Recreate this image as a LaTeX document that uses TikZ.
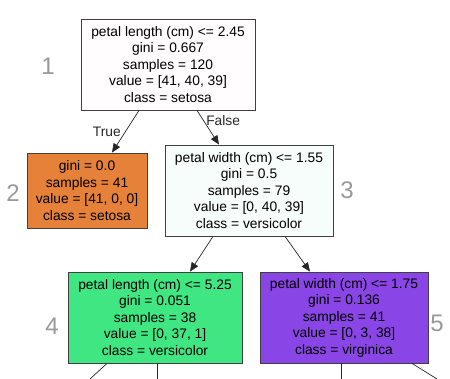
\documentclass[tikz,border=0pt]{standalone}
\usepackage{fontspec}
\setmainfont{Liberation Sans}
\usetikzlibrary{arrows.meta}

\definecolor{setosa}{HTML}{E58139}
\definecolor{versi}{HTML}{3FE682}
\definecolor{virgin}{HTML}{8A45E6}
\definecolor{rootfill}{HTML}{FFFDFD}
\definecolor{splitfill}{HTML}{F6FDFB}

\tikzset{
  leaf/.style={draw=black!75, line width=0.8pt, align=center, inner sep=0pt,
    font=\fontsize{13.8}{16.5}\selectfont},
  edge/.style={black!85, line width=0.7pt},
  tip/.style={-{Stealth[length=9pt,width=7.5pt,inset=0pt]}},
  hand/.style={gray!80, font=\fontsize{24}{24}\selectfont}
}

\begin{document}
\begin{tikzpicture}[x=1pt,y=-1pt]
\useasboundingbox (0,0) rectangle (450,379);

\node[leaf, fill=rootfill, minimum width=174pt, minimum height=91pt] (n1) at (168,64.5)
  {petal length (cm) <= 2.45\\gini = 0.667\\samples = 120\\value = [41, 40, 39]\\class = setosa};
\node[leaf, fill=setosa, minimum width=120pt, minimum height=75pt] (n2) at (87,190.5)
  {gini = 0.0\\samples = 41\\value = [41, 0, 0]\\class = setosa};
\node[leaf, fill=splitfill, minimum width=168pt, minimum height=91pt] (n3) at (249,190.5)
  {petal width (cm) <= 1.55\\gini = 0.5\\samples = 79\\value = [0, 40, 39]\\class = versicolor};
\node[leaf, fill=versi, minimum width=174pt, minimum height=91pt] (n4) at (155,317.5)
  {petal length (cm) <= 5.25\\gini = 0.051\\samples = 38\\value = [0, 37, 1]\\class = versicolor};
\node[leaf, fill=virgin, minimum width=168pt, minimum height=91pt] (n5) at (344,317.5)
  {petal width (cm) <= 1.75\\gini = 0.136\\samples = 41\\value = [0, 3, 38]\\class = virginica};

  \draw[edge,tip] ([xshift=-29pt]n1.south) -- ([xshift=25pt]n2.north) node[pos=0.5, left, xshift=-1pt, font=\fontsize{13.8}{14}\selectfont] (lt) {True};
  \draw[edge,tip] ([xshift=29pt]n1.south) -- ([xshift=-30pt]n3.north) node[pos=0.3, right, xshift=-1pt, font=\fontsize{13.8}{14}\selectfont] (lf) {False};
  \draw[edge,tip] ([xshift=-36pt]n3.south) -- ([xshift=35pt]n4.north);
  \draw[edge,tip] ([xshift=36pt]n3.south) -- ([xshift=-34pt]n5.north);

\coordinate (c4a) at (90,379);
\coordinate (c4b) at (157,379);
\coordinate (c5a) at (341,379);
\coordinate (c5b) at (437,379);
  \draw[edge] ([xshift=-48pt]n4.south) -- (c4a);
  \draw[edge] ([xshift=2pt]n4.south) -- (c4b);
  \draw[edge] ([xshift=-3pt]n5.south) -- (c5a);
  \draw[edge] ([xshift=68pt]n5.south) -- (c5b);

% hand-written step numbers
\node[hand] (h1) at (48,66) {1};
\node[hand] (h2) at (13,193) {2};
\node[hand] (h3) at (347,190) {3};
\node[hand] (h4) at (52,326) {4};
\node[hand] (h5) at (437,323) {5};
\end{tikzpicture}
\end{document}
